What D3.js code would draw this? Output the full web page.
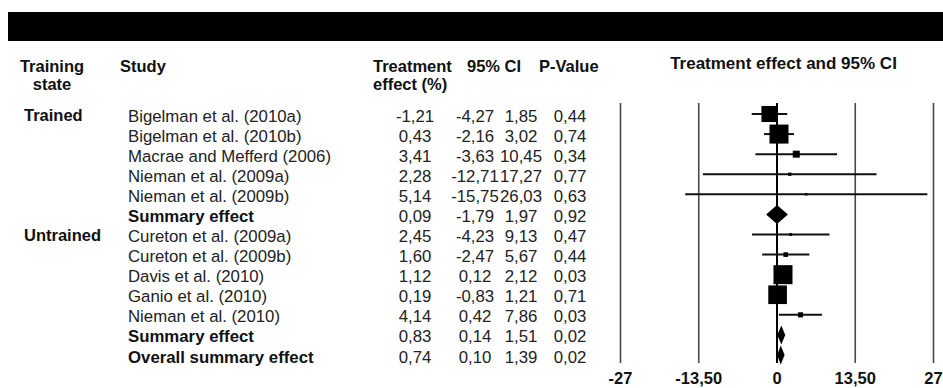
<!DOCTYPE html>
<html>
<head>
<meta charset="utf-8">
<script src="https://cdn.jsdelivr.net/npm/d3@7"></script>
<style>
  html, body { margin: 0; padding: 0; background: #fff; }
  svg { display: block; font-family: "Liberation Sans", Arial, Helvetica, sans-serif; }
</style>
</head>
<body>
<svg id="chart" width="943" height="388"></svg>
<script>
// Forest plot rows, top to bottom
const studyLabels = [
  "Bigelman et al. (2010a)", "Bigelman et al. (2010b)", "Macrae and Mefferd (2006)",
  "Nieman et al. (2009a)", "Nieman et al. (2009b)", "Summary effect",
  "Cureton et al. (2009a)", "Cureton et al. (2009b)", "Davis et al. (2010)",
  "Ganio et al. (2010)", "Nieman et al. (2010)", "Summary effect", "Overall summary effect"
];
const rowKind = ["study", "study", "study", "study", "study", "summary",
                 "study", "study", "study", "study", "study", "summary", "overall"];
const trainingState = ["Trained", "Trained", "Trained", "Trained", "Trained", "Trained",
                       "Untrained", "Untrained", "Untrained", "Untrained", "Untrained", "Untrained", "All"];
const stateLabelRows = [["Trained", 0], ["Untrained", 6]];

const effect = [-1.21, 0.43, 3.41, 2.28, 5.14, 0.09, 2.45, 1.60, 1.12, 0.19, 4.14, 0.83, 0.74];
const ciLow  = [-4.27, -2.16, -3.63, -12.71, -15.75, -1.79, -4.23, -2.47, 0.12, -0.83, 0.42, 0.14, 0.10];
const ciHigh = [1.85, 3.02, 10.45, 17.27, 26.03, 1.97, 9.13, 5.67, 2.12, 1.21, 7.86, 1.51, 1.39];
const pValue = [0.44, 0.74, 0.34, 0.77, 0.63, 0.92, 0.47, 0.44, 0.03, 0.71, 0.03, 0.02, 0.02];

const axisTicks = [-27, -13.5, 0, 13.5, 27];

const rows = studyLabels.map((label, i) => ({
  i, label, kind: rowKind[i], state: trainingState[i],
  effect: effect[i], lo: ciLow[i], hi: ciHigh[i], p: pValue[i]
}));

// Decimal comma formatting
const locale = d3.formatLocale({ decimal: ",", thousands: ".", grouping: [3], currency: ["", ""], minus: "-" });
const fmt2 = locale.format(".2f");
const fmtTick = d => Number.isInteger(d) ? locale.format("d")(d) : fmt2(d);

const svg = d3.select("#chart");

// Scales
const x = d3.scaleLinear().domain([-27, 27]).range([620, 933]);
const y = d3.scalePoint().domain(d3.range(rows.length)).range([114, 355]);

// Inverse-variance weight from the 95% CI, box side ∝ sqrt(weight) within each subgroup
rows.forEach(r => { const se = (r.hi - r.lo) / 3.92; r.w = 1 / (se * se); });
const maxW = d3.rollup(rows.filter(r => r.kind === "study"), v => d3.max(v, r => r.w), r => r.state);
const side = r => d3.scaleSqrt().domain([0, maxW.get(r.state)]).range([0, 19])(r.w);

// Title band
svg.append("rect").attr("x", 8).attr("y", 12).attr("width", 935).attr("height", 29).attr("fill", "#000");

// Column headers
const hdr = svg.append("g").attr("font-size", 16.5).attr("font-weight", "bold").attr("fill", "#111");
hdr.append("text").attr("x", 52).attr("y", 72).attr("text-anchor", "middle").text("Training");
hdr.append("text").attr("x", 52).attr("y", 89.5).attr("text-anchor", "middle").text("state");
hdr.append("text").attr("x", 120).attr("y", 72).text("Study");
hdr.append("text").attr("x", 373).attr("y", 72).text("Treatment");
hdr.append("text").attr("x", 373).attr("y", 89.5).text("effect (%)");
hdr.append("text").attr("x", 467).attr("y", 72).text("95% CI");
hdr.append("text").attr("x", 539).attr("y", 72).text("P-Value");
hdr.append("text").attr("x", 783.5).attr("y", 69).attr("text-anchor", "middle")
  .attr("font-size", 17).text("Treatment effect and 95% CI");

// Training state labels
svg.append("g").attr("font-size", 16.5).attr("font-weight", "bold").attr("fill", "#111")
  .selectAll("text").data(stateLabelRows).join("text")
  .attr("x", 24).attr("y", d => y(d[1]) + 6.5).text(d => d[0]);

// Table text
const tbl = svg.append("g").attr("font-size", 16.8).attr("fill", "#222");
const rowG = tbl.selectAll("g.row").data(rows).join("g").attr("class", "row")
  .attr("transform", d => `translate(0,${y(d.i) + 7.5})`);
rowG.append("text").attr("x", 128)
  .attr("font-weight", d => d.kind === "study" ? "normal" : "bold")
  .attr("fill", d => d.kind === "study" ? "#222" : "#111")
  .text(d => d.label);
rowG.append("text").attr("x", 415).attr("text-anchor", "middle").text(d => fmt2(d.effect));
rowG.append("text").attr("x", 475).attr("text-anchor", "middle").text(d => fmt2(d.lo));
rowG.append("text").attr("x", 521).attr("text-anchor", "middle").text(d => fmt2(d.hi));
rowG.append("text").attr("x", 570).attr("text-anchor", "middle").text(d => fmt2(d.p));

// Axis with full-height reference lines
const axisY = 363;
const axisG = svg.append("g").attr("transform", `translate(0,${axisY})`)
  .call(d3.axisBottom(x).tickValues(axisTicks).tickFormat(fmtTick).tickSize(-(axisY - 103)).tickPadding(9));
axisG.select(".domain").remove();
axisG.selectAll(".tick line")
  .attr("stroke", d => d === 0 ? "#000" : "#4a4a4a")
  .attr("stroke-width", d => d === 0 ? 2 : 1.6);
axisG.selectAll(".tick text")
  .attr("font-size", 16.5).attr("font-weight", "bold").attr("fill", "#111")
  .attr("font-family", "Liberation Sans, Arial, sans-serif");

// Study confidence intervals and weighted boxes
const studies = rows.filter(r => r.kind === "study");
const plot = svg.append("g");
plot.selectAll("line.ci").data(studies).join("line").attr("class", "ci")
  .attr("x1", d => x(d.lo)).attr("x2", d => x(d.hi))
  .attr("y1", d => y(d.i)).attr("y2", d => y(d.i))
  .attr("stroke", "#111").attr("stroke-width", 2);
plot.selectAll("rect.box").data(studies).join("rect").attr("class", "box")
  .attr("x", d => x(d.effect) - Math.max(side(d), 2) / 2)
  .attr("y", d => y(d.i) - Math.max(side(d), 2) / 2)
  .attr("width", d => Math.max(side(d), 2))
  .attr("height", d => Math.max(side(d), 2))
  .attr("fill", "#000");

// Summary diamonds
const summaries = rows.filter(r => r.kind !== "study");
plot.selectAll("path.diamond").data(summaries).join("path").attr("class", "diamond")
  .attr("d", d => {
    const cy = y(d.i), h = 9.5;
    return `M${x(d.lo)},${cy}L${x(d.effect)},${cy - h}L${x(d.hi)},${cy}L${x(d.effect)},${cy + h}Z`;
  })
  .attr("fill", "#000");
</script>
</body>
</html>
